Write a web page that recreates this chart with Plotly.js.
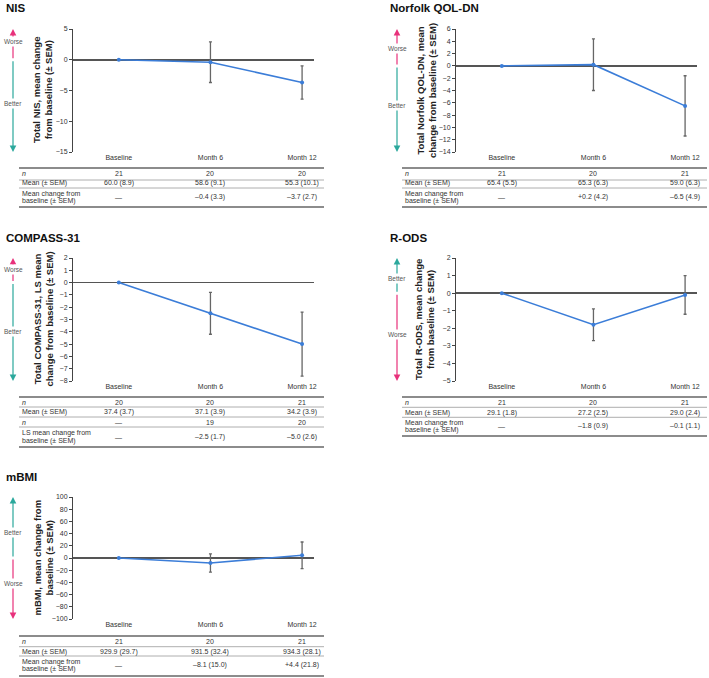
<!DOCTYPE html>
<html>
<head>
<meta charset="utf-8">
<script src="https://cdn.plot.ly/plotly-3.0.1.min.js"></script>
<style>html,body{margin:0;padding:0;background:#fff;}#chart{width:709px;height:678px;}</style>
</head>
<body>
<div id="chart"></div>
<script>
// ---------- data ----------
const categories = ['Baseline', 'Month 6', 'Month 12'];

const nisChange = [0, -0.4, -3.7];
const nisChangeSem = [0, 3.3, 2.7];
const nisN = [21, 20, 20];
const nisMean = [60.0, 58.6, 55.3];
const nisMeanSem = [8.9, 9.1, 10.1];

const qolChange = [0, 0.2, -6.5];
const qolChangeSem = [0, 4.2, 4.9];
const qolN = [21, 20, 21];
const qolMean = [65.4, 65.3, 59.0];
const qolMeanSem = [5.5, 6.3, 6.3];

const compassChange = [0, -2.5, -5.0];
const compassChangeSem = [0, 1.7, 2.6];
const compassN = [20, 20, 21];
const compassChangeN = [null, 19, 20];
const compassMean = [37.4, 37.1, 34.2];
const compassMeanSem = [3.7, 3.9, 3.9];

const rodsChange = [0, -1.8, -0.1];
const rodsChangeSem = [0, 0.9, 1.1];
const rodsN = [21, 20, 21];
const rodsMean = [29.1, 27.2, 29.0];
const rodsMeanSem = [1.8, 2.5, 2.4];

const mbmiChange = [0, -8.1, 4.4];
const mbmiChangeSem = [0, 15.0, 21.8];
const mbmiN = [21, 20, 21];
const mbmiMean = [929.9, 931.5, 934.3];
const mbmiMeanSem = [29.7, 32.4, 28.1];

// ---------- helpers ----------
const W = 709, H = 678;
const fx = px => px / W;
const fy = py => 1 - py / H;
const fmtMean = (v, s) => v.toFixed(1) + ' (' + s.toFixed(1) + ')';
const fmtChange = (v, s, i) => i === 0 ? '—' : (v < 0 ? '–' : '+') + Math.abs(v).toFixed(1) + ' (' + s.toFixed(1) + ')';
const fmtN = v => v === null ? '—' : String(v);

const PINK = '#e8317b', TEAL = '#2ba89c', BLUE = '#3b7dd8';

const panels = [
  { title: 'NIS', titleX: 4, titleY: 8, L: 73, R: 314, T: 29, B: 152, range: [-15, 5], dtick: 5,
    arrowX: 13, topWorse: true, topLabelY: 42, botLabelY: 104, yTitle: 'Total NIS, mean change<br>from baseline (± SEM)', yTitleX: 42.5,
    change: nisChange, sem: nisChangeSem,
    tL: 19, tR: 324, lines: [168, 180, 188, 207],
    rows: [
      { label: ['<i>n</i>'], ys: [173], vals: nisN.map(fmtN) },
      { label: ['Mean (± SEM)'], ys: [183.5], vals: nisMean.map((v, i) => fmtMean(v, nisMeanSem[i])) },
      { label: ['Mean change from', 'baseline (± SEM)'], ys: [193.5, 200.5], vals: nisChange.map((v, i) => fmtChange(v, nisChangeSem[i], i)) }
    ] },
  { title: 'Norfolk QOL-DN', titleX: 388, titleY: 8, L: 456, R: 697, T: 29, B: 152, range: [-14, 6], dtick: 2,
    arrowX: 397, topWorse: true, topLabelY: 48, botLabelY: 105, yTitle: 'Total Norfolk QOL-DN, mean<br>change from baseline (± SEM)', yTitleX: 426.5,
    change: qolChange, sem: qolChangeSem,
    tL: 402, tR: 707, lines: [168, 180, 188, 207],
    rows: [
      { label: ['<i>n</i>'], ys: [173], vals: qolN.map(fmtN) },
      { label: ['Mean (± SEM)'], ys: [183.5], vals: qolMean.map((v, i) => fmtMean(v, qolMeanSem[i])) },
      { label: ['Mean change from', 'baseline (± SEM)'], ys: [193.5, 200.5], vals: qolChange.map((v, i) => fmtChange(v, qolChangeSem[i], i)) }
    ] },
  { title: 'COMPASS-31', titleX: 4, titleY: 238, L: 73, R: 314, T: 258, B: 381, range: [-8, 2], dtick: 1,
    arrowX: 13, topWorse: true, topLabelY: 270, botLabelY: 331, yTitle: 'Total COMPASS-31, LS mean<br>change from baseline (± SEM)', yTitleX: 43,
    change: compassChange, sem: compassChangeSem,
    tL: 19, tR: 324, lines: [397, 407, 417, 427, 447],
    rows: [
      { label: ['<i>n</i>'], ys: [402], vals: compassN.map(fmtN) },
      { label: ['Mean (± SEM)'], ys: [412.3], vals: compassMean.map((v, i) => fmtMean(v, compassMeanSem[i])) },
      { label: ['<i>n</i>'], ys: [422.5], vals: compassChangeN.map(fmtN) },
      { label: ['LS mean change from', 'baseline (± SEM)'], ys: [433.3, 441], vals: compassChange.map((v, i) => fmtChange(v, compassChangeSem[i], i)) }
    ] },
  { title: 'R-ODS', titleX: 388, titleY: 238, L: 456, R: 697, T: 258, B: 381, range: [-5, 2], dtick: 1,
    arrowX: 397, topWorse: false, topLabelY: 278, botLabelY: 335, yTitle: 'Total R-ODS, mean change<br>from baseline (± SEM)', yTitleX: 424.5,
    change: rodsChange, sem: rodsChangeSem,
    tL: 402, tR: 707, lines: [397, 407.3, 417.3, 436],
    rows: [
      { label: ['<i>n</i>'], ys: [402], vals: rodsN.map(fmtN) },
      { label: ['Mean (± SEM)'], ys: [412.5], vals: rodsMean.map((v, i) => fmtMean(v, rodsMeanSem[i])) },
      { label: ['Mean change from', 'baseline (± SEM)'], ys: [422.7, 430], vals: rodsChange.map((v, i) => fmtChange(v, rodsChangeSem[i], i)) }
    ] },
  { title: 'mBMI', titleX: 4, titleY: 477, L: 73, R: 314, T: 497, B: 619, range: [-100, 100], dtick: 20,
    arrowX: 13, topWorse: false, topLabelY: 532, botLabelY: 583, yTitle: 'mBMI, mean change from<br>baseline (± SEM)', yTitleX: 42.5,
    change: mbmiChange, sem: mbmiChangeSem,
    tL: 19, tR: 324, lines: [636, 646.7, 656, 676],
    rows: [
      { label: ['<i>n</i>'], ys: [641], vals: mbmiN.map(fmtN) },
      { label: ['Mean (± SEM)'], ys: [651.7], vals: mbmiMean.map((v, i) => fmtMean(v, mbmiMeanSem[i])) },
      { label: ['Mean change from', 'baseline (± SEM)'], ys: [661.7, 669], vals: mbmiChange.map((v, i) => fmtChange(v, mbmiChangeSem[i], i)) }
    ] }
];

const FONT = 'Liberation Sans, Arial, Helvetica, sans-serif';
const traces = [];
const layout = {
  width: W, height: H,
  margin: { l: 0, r: 0, t: 0, b: 0, pad: 0 },
  paper_bgcolor: '#fff', plot_bgcolor: '#fff',
  showlegend: false,
  font: { family: FONT, size: 7, color: '#333' },
  shapes: [], annotations: []
};

panels.forEach((p, k) => {
  const n = k + 1;
  const sfx = n === 1 ? '' : String(n);
  const xr = 'x' + sfx, yr = 'y' + sfx;
  layout['xaxis' + sfx] = {
    domain: [fx(p.L), fx(p.R)], anchor: yr, type: 'category',
    range: [-0.5, 2.13], showline: false, ticks: '', showgrid: false, zeroline: false,
    tickfont: { size: 7, color: '#333' }, fixedrange: true
  };
  layout['yaxis' + sfx] = {
    domain: [fy(p.B), fy(p.T)], anchor: xr, range: p.range, dtick: p.dtick, tick0: 0,
    showline: true, linecolor: '#444', linewidth: 1, ticks: 'outside', ticklen: 3, tickwidth: 1, tickcolor: '#444',
    showgrid: false, zeroline: true, zerolinecolor: '#555', zerolinewidth: 1.5,
    tickfont: { size: 7, color: '#333' }, fixedrange: true
  };
  traces.push({
    type: 'scatter', mode: 'lines+markers', x: categories, y: p.change,
    xaxis: xr, yaxis: yr, cliponaxis: false,
    line: { color: BLUE, width: 1.6 }, marker: { size: 4, color: BLUE },
    error_y: { type: 'data', array: p.sem, visible: true, color: '#666', thickness: 1.3, width: 1.5 },
    hoverinfo: 'skip'
  });

  // panel title
  layout.annotations.push({ xref: 'paper', yref: 'paper', x: fx(p.titleX), y: fy(p.titleY), xanchor: 'left', yanchor: 'middle',
    text: '<b>' + p.title + '</b>', showarrow: false, font: { size: 11.5, color: '#111' } });
  // y title
  layout.annotations.push({ xref: 'paper', yref: 'paper', x: fx(p.yTitleX), y: fy((p.T + p.B) / 2), xanchor: 'center', yanchor: 'middle',
    textangle: -90, text: '<b>' + p.yTitle + '</b>', showarrow: false, font: { size: 9.5, color: '#222' } });

  // direction arrows
  const topCol = p.topWorse ? PINK : TEAL;
  const botCol = p.topWorse ? TEAL : PINK;
  layout.annotations.push({ xref: 'paper', yref: yr, x: fx(p.arrowX), y: p.range[1], ax: 0, ayref: yr, ay: 0,
    showarrow: true, text: '', arrowhead: 2, arrowsize: 1.1, arrowwidth: 1.2, arrowcolor: topCol, standoff: 0, startstandoff: 0 });
  layout.annotations.push({ xref: 'paper', yref: yr, x: fx(p.arrowX), y: p.range[0], ax: 0, ayref: yr, ay: 0,
    showarrow: true, text: '', arrowhead: 2, arrowsize: 1.1, arrowwidth: 1.2, arrowcolor: botCol, standoff: 0, startstandoff: 0 });
  layout.annotations.push({ xref: 'paper', yref: 'paper', x: fx(p.arrowX), y: fy(p.topLabelY), xanchor: 'center', yanchor: 'middle',
    text: p.topWorse ? 'Worse' : 'Better', showarrow: false, bgcolor: '#fff', borderpad: 1, font: { size: 6.5, color: '#555' } });
  layout.annotations.push({ xref: 'paper', yref: 'paper', x: fx(p.arrowX), y: fy(p.botLabelY), xanchor: 'center', yanchor: 'middle',
    text: p.topWorse ? 'Better' : 'Worse', showarrow: false, bgcolor: '#fff', borderpad: 1, font: { size: 6.5, color: '#555' } });

  // table lines
  p.lines.forEach((ly, i) => {
    const thick = i === 0 || i === p.lines.length - 1;
    layout.shapes.push({ type: 'line', xref: 'paper', yref: 'paper', x0: fx(p.tL), x1: fx(p.tR), y0: fy(ly), y1: fy(ly),
      line: { color: thick ? '#666' : '#999', width: thick ? 1.5 : 0.8 } });
  });
  // table rows
  p.rows.forEach(r => {
    r.label.forEach((t, j) => {
      layout.annotations.push({ xref: 'paper', yref: 'paper', x: fx(p.tL + 1), y: fy(r.ys[j]), xanchor: 'left', yanchor: 'middle',
        text: t, showarrow: false, font: { size: 7, color: '#333' } });
    });
    const vy = r.ys.reduce((a, b) => a + b, 0) / r.ys.length;
    r.vals.forEach((v, i) => {
      layout.annotations.push({ xref: xr, yref: 'paper', x: i, y: fy(vy), xanchor: 'center', yanchor: 'middle',
        text: v, showarrow: false, font: { size: 7, color: '#333' } });
    });
  });
});

Plotly.newPlot('chart', traces, layout, { displayModeBar: false, staticPlot: true });
</script>
</body>
</html>
